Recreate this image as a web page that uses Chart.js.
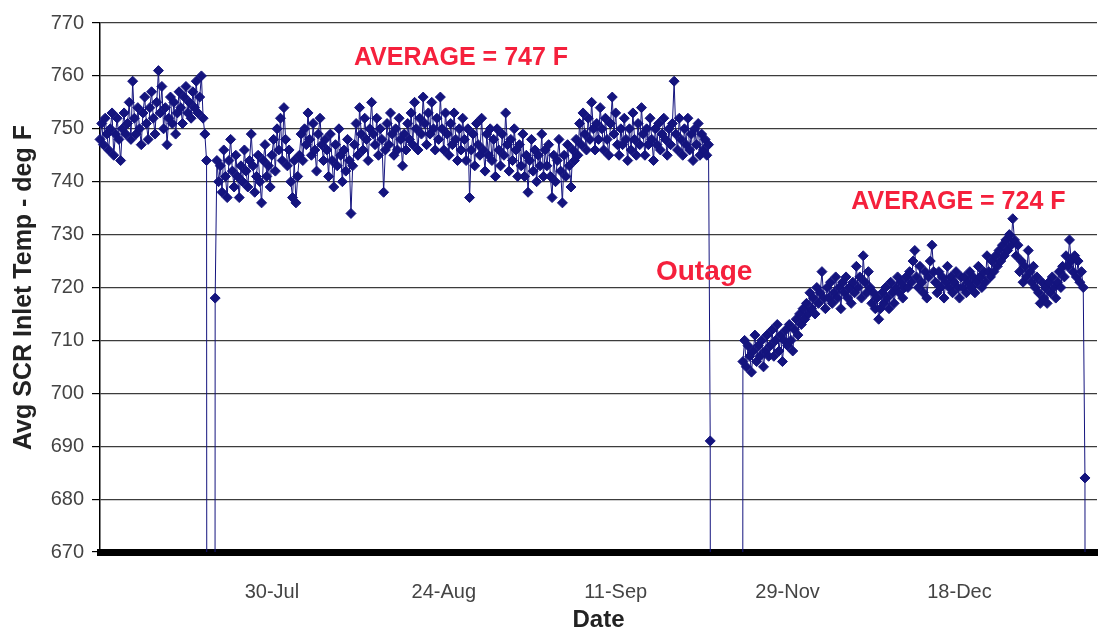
<!DOCTYPE html>
<html>
<head>
<meta charset="utf-8">
<script src="https://cdn.jsdelivr.net/npm/chart.js@4.4.1/dist/chart.umd.min.js"></script>
<style>
  html, body { margin: 0; padding: 0; background: #fff; }
</style>
</head>
<body>
<canvas id="graf_scr" width="1103" height="632"></canvas>
<script>
// temperature moyenne a l'entree du SCR, une valeur par point (0 = unite arretee)
const temps = [
  // avant le 30-Jul
  748, 751, 747, 752, 749, 746, 750, 753, 745, 749, 752, 748, 744, 750, 753, 749,
  751, 755, 748, 759, 752, 749, 754, 750, 747, 753, 756, 751, 748, 754, 757, 752,
  749, 755, 761, 753, 758, 750, 754, 747, 752, 756, 751, 755, 749, 753, 757, 754,
  751, 756, 758, 753, 755, 752, 757, 754, 759, 753, 756, 760, 752, 749, 744,
  0, 0, 0, 0, 718,
  // jusqu'a l'arret
  744, 740, 743, 738, 746, 741, 737, 744, 748, 742, 739, 745, 741, 737, 743, 740,
  746, 742, 739, 744, 749, 743, 738, 741, 745, 740, 736, 744, 747, 741, 743, 739,
  745, 748, 742, 750, 746, 752, 744, 754, 748, 743, 746, 740, 737, 744, 736, 741,
  745, 749, 744, 750, 747, 753, 748, 745, 751, 746, 742, 749, 752, 747, 744, 748,
  746, 741, 749, 744, 739, 747, 743, 750, 745, 740, 746, 742, 748, 744, 734, 743,
  747, 751, 745, 754, 749, 746, 752, 748, 744, 750, 755, 749, 747, 752, 745, 750,
  748, 738, 746, 751, 747, 753, 749, 745, 750, 746, 752, 748, 743, 749, 746, 751,
  748, 753, 747, 755, 750, 746, 752, 749, 756, 751, 747, 753, 749, 755, 750, 746,
  752, 748, 756, 750, 746, 753, 749, 745, 751, 747, 753, 748, 744, 750, 746, 752,
  748, 744, 750, 737, 746, 749, 743, 751, 747, 745, 752, 746, 742, 749, 745, 750,
  744, 748, 741, 750, 746, 743, 749, 745, 753, 747, 742, 748, 744, 750, 746, 741,
  747, 743, 749, 741, 745, 738, 744, 748, 742, 746, 740, 745, 743, 749, 741, 746,
  743, 747, 741, 737, 745, 740, 744, 748, 742, 736, 745, 741, 747, 743, 739, 746,
  744, 748, 745, 751, 747, 753, 749, 746, 752, 748, 755, 750, 746, 751, 748, 754,
  750, 746, 752, 748, 745, 751, 756, 749, 753, 747, 745, 750, 747, 752, 748, 744,
  750, 746, 753, 748, 745, 751, 747, 754, 749, 745, 750, 747, 752, 748, 744, 750,
  747, 751, 746, 749, 752, 748, 745, 750, 747, 751, 759, 749, 746, 752, 748, 745,
  750, 747, 752, 746, 749, 744, 750, 747, 751, 745, 749, 746, 748, 745, 747,
  691,
  0, 0, 0, 0, 0, 0, 0, 0, 0, 0, 0, 0, 0, 0, 0, 0, 0, 0,
  // apres l'arret
  706, 710, 705, 709, 707, 704, 708, 711, 706, 709, 707, 710, 705, 708, 711, 707,
  709, 712, 707, 710, 713, 708, 711, 706, 710, 712, 709, 713, 710, 708, 712, 714,
  711, 715, 713, 716, 714, 717, 715, 719, 716, 718, 715, 720, 717, 719, 723, 718,
  716, 720, 718, 721, 717, 719, 722, 718, 720, 716, 721, 719, 722, 718, 720, 717,
  721, 719, 724, 720, 722, 718, 726, 721, 719, 723, 720, 717, 719, 716, 718, 714,
  716, 719, 717, 720, 718, 716, 721, 719, 717, 720, 722, 719, 721, 718, 720, 722,
  720, 723, 721, 725, 727, 722, 720, 724, 721, 719, 723, 718, 722, 725, 728, 723,
  721, 719, 723, 720, 722, 718, 721, 724, 720, 722, 719, 721, 723, 720, 718, 722,
  720, 722, 719, 721, 723, 720, 722, 719, 721, 724, 722, 720, 723, 721, 726, 723,
  722, 725, 723, 726, 724, 727, 725, 728, 726, 729, 727, 730, 728, 733, 729, 726,
  728, 723, 725, 721, 724, 722, 727, 723, 721, 724, 720, 722, 719, 717, 721, 718,
  720, 717, 721, 719, 722, 720, 718, 721, 723, 720, 724, 722, 726, 724, 729, 725,
  723, 726, 722, 725, 721, 723, 720,
  684, 0,
  null, null, null, null, null, null
];

// dates affichees sous l'axe, une toutes les 100 valeurs (la premiere est vide)
const tickLabels = ['', '30-Jul', '24-Aug', '11-Sep', '29-Nov', '18-Dec'];
const labelStep = 100;

const labels = temps.map((v, i) => i % labelStep === 0 ? (tickLabels[i / labelStep] || '') : '');

const police = '"Liberation Sans", Arial, sans-serif';

// textes rouges sur le graphique
const notes = [
  { text: 'AVERAGE = 747 F', at: 210, value: 763.4, size: 25 },
  { text: 'AVERAGE = 724 F', at: 499.4, value: 736.1, size: 25 },
  { text: 'Outage', at: 351.5, value: 722.8, size: 28 }
];

const notesPlugin = {
  id: 'notes',
  afterDatasetsDraw(chart) {
    const { ctx, scales: { x, y } } = chart;
    ctx.save();
    ctx.fillStyle = '#f5203c';
    ctx.textAlign = 'center';
    ctx.textBaseline = 'middle';
    notes.forEach(n => {
      ctx.font = 'bold ' + n.size + 'px ' + police;
      ctx.fillText(n.text, x.getPixelForValue(n.at), y.getPixelForValue(n.value));
    });
    ctx.restore();
  }
};

new Chart(document.getElementById('graf_scr'), {
  type: 'line',
  data: {
    labels: labels,
    datasets: [{
      data: temps,
      borderColor: '#14147e',
      borderWidth: 1,
      backgroundColor: '#14147e',
      pointStyle: 'rectRot',
      pointRadius: 5,
      pointBorderWidth: 1,
      pointBorderColor: '#14147e',
      pointBackgroundColor: '#14147e',
      spanGaps: false,
      tension: 0
    }]
  },
  options: {
    responsive: false,
    animation: false,
    devicePixelRatio: 1,
    layout: { padding: { top: 23, right: 3, bottom: 0, left: 0 } },
    plugins: {
      legend: { display: false },
      tooltip: { enabled: false }
    },
    scales: {
      x: {
        grid: { display: false },
        border: { color: '#000', width: 7 },
        afterBuildTicks: axis => {
          axis.ticks = axis.ticks.filter(t => labels[t.value] !== '');
        },
        afterFit: s => { s.height = 80; },
        ticks: {
          autoSkip: false,
          maxRotation: 0,
          minRotation: 0,
          padding: 20,
          color: '#444',
          font: { size: 20, family: police }
        },
        title: {
          display: true,
          text: 'Date',
          color: '#222',
          padding: { top: 0, bottom: 0 },
          font: { size: 24, weight: 'bold', family: police, lineHeight: 1 }
        }
      },
      y: {
        min: 670,
        max: 770,
        afterFit: s => { s.width = 100; },
        ticks: {
          stepSize: 10,
          padding: 8,
          color: '#444',
          font: { size: 20, family: police }
        },
        grid: { color: '#3c3c3c', lineWidth: 1.2, tickLength: 8, tickColor: '#000' },
        border: { color: '#000', width: 1.5 },
        title: {
          display: true,
          text: 'Avg SCR Inlet Temp - deg F',
          color: '#222',
          padding: { top: 9, bottom: 4 },
          font: { size: 25, weight: 'bold', family: police }
        }
      }
    }
  },
  plugins: [notesPlugin]
});
</script>
</body>
</html>
